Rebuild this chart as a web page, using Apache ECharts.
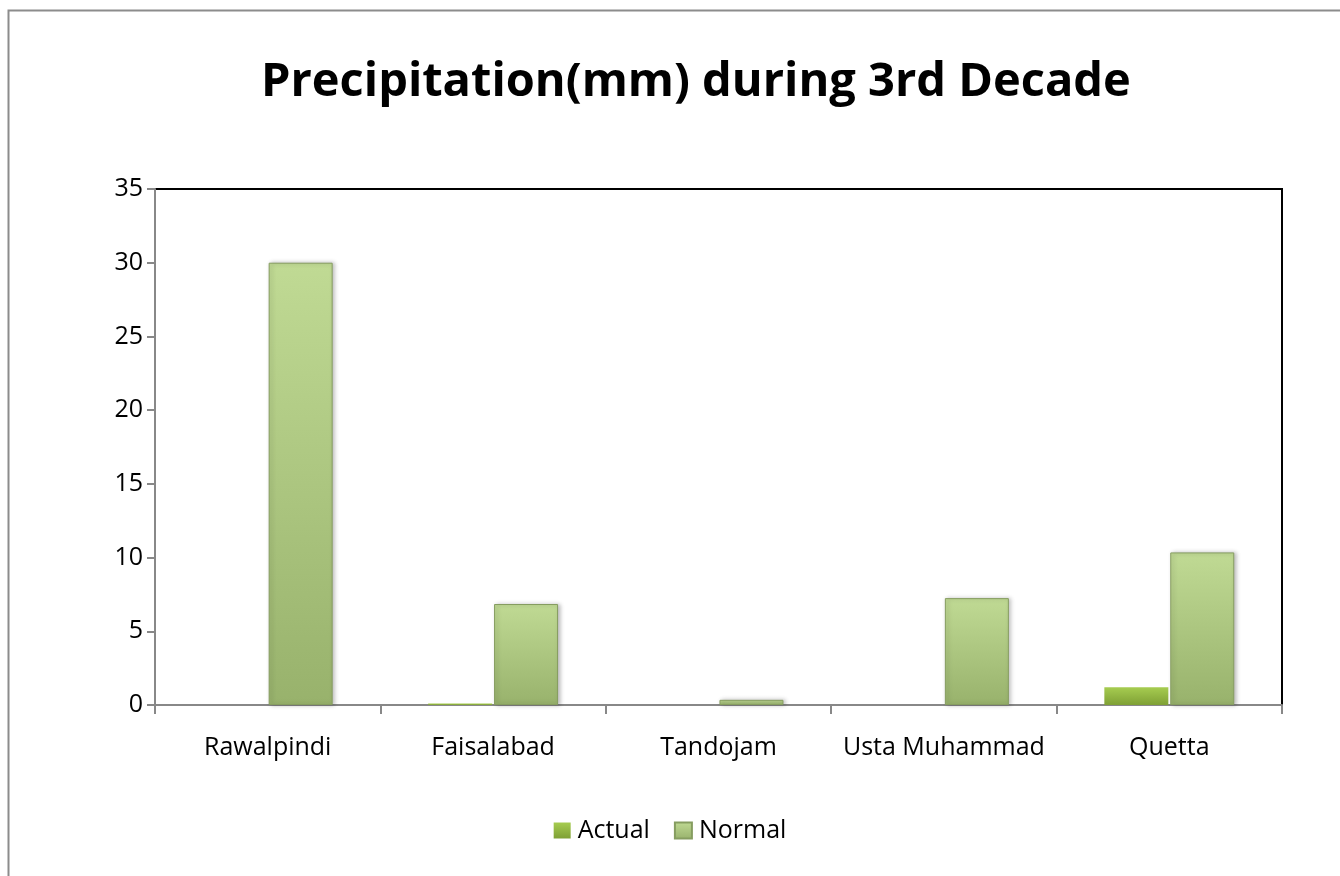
<!DOCTYPE html>
<html>
<head>
<meta charset="utf-8">
<script src="https://cdn.jsdelivr.net/npm/echarts@6/dist/echarts.min.js"></script>
<style>html,body{margin:0;padding:0;background:#fff}#c{width:1340px;height:876px}</style>
</head>
<body>
<div id="c"></div>
<script>
const categories = ['Rawalpindi', 'Faisalabad', 'Tandojam', 'Usta Muhammad', 'Quetta'];
const actual = [0, 0.1, 0, 0, 1.2];
const normal = [30, 6.85, 0.35, 7.25, 10.35];
const yTicks = { min: 0, max: 35, interval: 5 };

const FONT = "'Open Sans', 'Noto Sans', sans-serif";
const chart = echarts.init(document.getElementById('c'));
const actualColor = new echarts.graphic.LinearGradient(0, 0, 0, 1, [
  { offset: 0, color: '#a6cc50' }, { offset: 1, color: '#7fa035' }
]);
const normalColor = new echarts.graphic.LinearGradient(0, 0, 0, 1, [
  { offset: 0, color: '#c0da94' }, { offset: 1, color: '#98b26c' }
]);
chart.setOption({
  animation: false,
  backgroundColor: '#fff',
  graphic: [{
    type: 'rect', left: 6, top: 8, z: -10,
    shape: { width: 1340, height: 880 },
    style: { fill: 'none', stroke: '#8c8c8c', lineWidth: 2 }
  }],
  title: {
    text: 'Precipitation(mm) during 3rd Decade',
    left: 256, top: 54,
    textStyle: { fontFamily: FONT, fontSize: 47, fontWeight: 'bold', color: '#000' }
  },
  legend: {
    top: 813, left: 'center',
    itemWidth: 17, itemHeight: 16, itemGap: 24,
    icon: 'rect',
    textStyle: { fontFamily: FONT, fontSize: 25, color: '#000', padding: [0, 0, 0, 2] },
    data: ['Actual', 'Normal']
  },
  grid: {
    left: 155, right: 58, top: 189, bottom: 171,
    show: true, borderColor: '#000', borderWidth: 2, backgroundColor: '#fff'
  },
  xAxis: {
    type: 'category', data: categories,
    axisLine: { lineStyle: { color: '#888', width: 2 } },
    axisTick: { show: true, interval: 0, length: 9, alignWithLabel: false, lineStyle: { color: '#888', width: 2 } },
    axisLabel: { interval: 0, fontFamily: FONT, fontSize: 25, color: '#000', margin: 30 }
  },
  yAxis: {
    type: 'value', min: yTicks.min, max: yTicks.max, interval: yTicks.interval,
    splitLine: { show: false },
    axisLine: { show: true, lineStyle: { color: '#888', width: 2 } },
    axisTick: { show: true, length: 8, lineStyle: { color: '#888', width: 2 } },
    axisLabel: { fontFamily: FONT, fontSize: 25, color: '#000', margin: 12 }
  },
  series: [
    { name: 'Actual', type: 'bar', data: actual, barWidth: 64, barGap: '3%',
      itemStyle: { color: actualColor, borderWidth: 0 } },
    { name: 'Normal', type: 'bar', data: normal, barWidth: 64,
      itemStyle: { color: normalColor, borderColor: '#869d60', borderWidth: 1,
        shadowColor: 'rgba(0,0,0,0.25)', shadowBlur: 4, shadowOffsetX: 2 } }
  ]
});
</script>
</body>
</html>
